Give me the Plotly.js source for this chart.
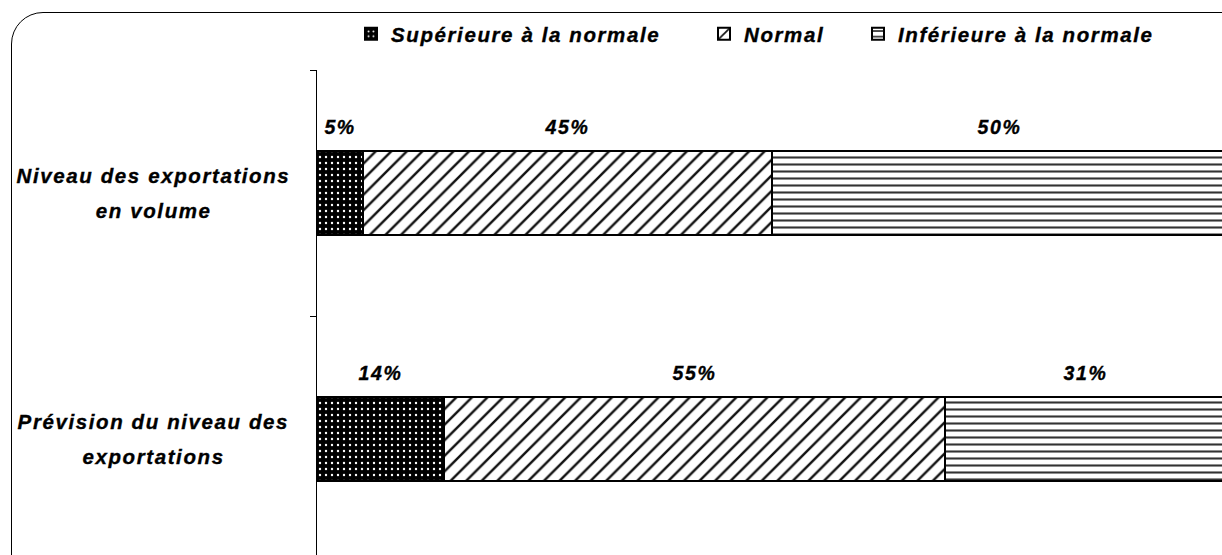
<!DOCTYPE html>
<html><head><meta charset="utf-8">
<script src="https://cdn.plot.ly/plotly-3.0.1.min.js"></script>
<style>
html,body{margin:0;padding:0;width:1222px;height:555px;overflow:hidden;background:#fff;}
#frame{position:absolute;left:11px;top:12px;width:1300px;height:620px;border:1.5px solid #000;border-radius:32px;box-sizing:border-box;}
#chart{position:absolute;left:0;top:0;}
#chart text{letter-spacing:1.6px;stroke:#000;stroke-width:0.35px;}
</style></head>
<body>
<div id="frame"></div>
<div id="chart"></div>
<script>
const categories = ["Niveau des exportations<br>en volume", "Prévision du niveau des<br>exportations"];
const seriesNames = ["Supérieure à la normale", "Normal", "Inférieure à la normale"];
const superieure = [5, 14];
const normal = [45, 55];
const inferieure = [50, 31];

const FONT = {family: "Liberation Sans, Arial, sans-serif", size: 20.5, color: "#000", weight: "bold", style: "italic"};
const PFONT = Object.assign({}, FONT, {size: 19.5});
const series = [superieure, normal, inferieure];
const patterns = [
  {shape: ".", bgcolor: "#000", fgcolor: "#fff", size: 6, solidity: 0.12},
  {shape: "/", bgcolor: "#fff", fgcolor: "#111", size: 11, solidity: 0.22},
  {shape: "-", bgcolor: "#fff", fgcolor: "#333", size: 7, solidity: 0.3}
];
const legendNames = ["legend", "legend2", "legend3"];
const traces = series.map((vals, i) => ({
  type: "bar", orientation: "h", name: seriesNames[i],
  y: categories, x: vals, legend: legendNames[i],
  marker: {color: "#fff", pattern: patterns[i], line: {color: "#000", width: 2}},
  hoverinfo: "x+name"
}));

const annotations = [];
categories.forEach((cat, ci) => {
  let cum = 0;
  series.forEach((vals) => {
    const v = vals[ci];
    annotations.push({x: cum + v / 2, y: cat, xref: "x", yref: "y", text: v + "%",
      showarrow: false, yshift: 66, font: PFONT});
    cum += v;
  });
  const lines = cat.split("<br>");
  lines.forEach((ln, li) => {
    annotations.push({x: 0, y: cat, xref: "paper", yref: "y", text: ln, xanchor: "center",
      showarrow: false, xshift: -164, yshift: (lines.length - 1) * 17.5 - li * 35, font: FONT});
  });
});

const W = 1232, H = 565;
const legendBase = {orientation: "h", xref: "container", yref: "container", y: 1 - 34 / H,
  xanchor: "left", yanchor: "middle", font: FONT, itemwidth: 30, bgcolor: "rgba(0,0,0,0)",
  entrywidthmode: "pixels"};
const layout = {
  width: W, height: H,
  margin: {l: 317, r: 5, t: 70, b: 3, autoexpand: false},
  paper_bgcolor: "rgba(0,0,0,0)", plot_bgcolor: "rgba(0,0,0,0)",
  barmode: "stack", bargap: 0.66,
  showlegend: true,
  legend: Object.assign({}, legendBase, {x: 351 / W, entrywidth: 320}),
  legend2: Object.assign({}, legendBase, {x: 704 / W, entrywidth: 115}),
  legend3: Object.assign({}, legendBase, {x: 858 / W, entrywidth: 325}),
  xaxis: {range: [0, 100], visible: false, fixedrange: true},
  yaxis: {autorange: "reversed", showticklabels: false, showline: true, linecolor: "#000", linewidth: 1,
    ticks: "outside", tickson: "boundaries", ticklen: 6, tickcolor: "#000", showgrid: false, zeroline: false},
  annotations: annotations
};
Plotly.newPlot("chart", traces, layout, {displayModeBar: false, staticPlot: true});
</script>
</body></html>
